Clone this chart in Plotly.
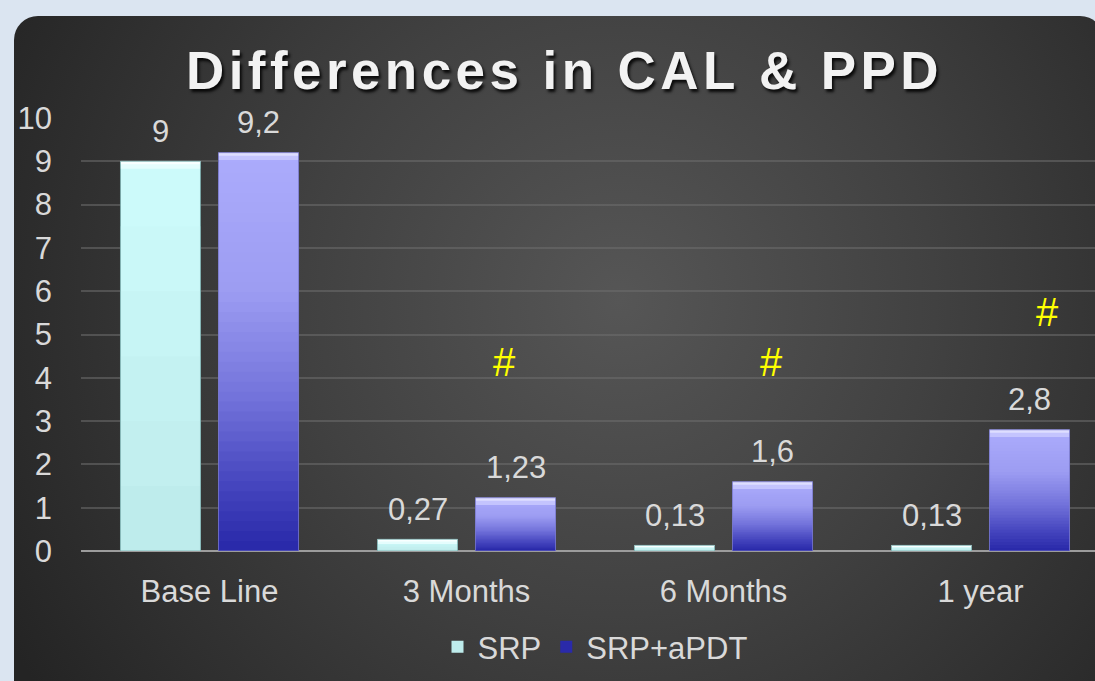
import base64
import plotly.graph_objects as go

# ---------------- data ----------------
categories = ["Base Line", "3 Months", "6 Months", "1 year"]
srp = [9, 0.27, 0.13, 0.13]
srp_apdt = [9.2, 1.23, 1.6, 2.8]
series_names = ["SRP", "SRP+aPDT"]
hash_y = [None, 4.36, 4.36, 5.52]   # significance marks "#"
y_ticks = list(range(0, 11))
title_text = "Differences in CAL & PPD"

# ---------------- layout geometry (pixels) ----------------
W, H = 1095, 681
PL, PR, PT, PB = 81, 1095, 118, 551          # plot area
CAT_STEP = 257.0


def pxx(px):
    return (px - PL) / (PR - PL)


def pxy(py):
    return (PB - py) / (PB - PT)


def hex2rgb(h):
    h = h.lstrip("#")
    return [int(h[i:i + 2], 16) for i in (0, 2, 4)]


def grad(stops, t):
    for (t0, c0), (t1, c1) in zip(stops[:-1], stops[1:]):
        if t0 <= t <= t1:
            f = (t - t0) / (t1 - t0) if t1 > t0 else 0
            a, b = hex2rgb(c0), hex2rgb(c1)
            return "rgb(%d,%d,%d)" % tuple(round(a[k] + (b[k] - a[k]) * f) for k in range(3))
    return stops[-1][1]


# gradient stops: t = 0 top of bar, 1 bottom
srp_stops = [(0, "#cdfbfb"), (0.5, "#c6f4f4"), (1, "#bdeaea")]
apdt_stops = [(0, "#acacfc"), (0.35, "#9c9cf2"), (0.62, "#7272da"), (0.85, "#4242bc"), (1, "#2828a8")]

fig = go.Figure()


def add_series(vals, name, key, stops, bevel_cols, edge_col, n):
    for i in range(n):
        frac = (n - i) / n
        t = 1 - (n - i - 0.5) / n
        col = grad(stops, t)
        fig.add_trace(go.Bar(
            x=categories, y=[v * frac for v in vals], offsetgroup=key,
            name=name, legendgroup=key, showlegend=(i == n - 1),
            marker=dict(color=col, line=dict(width=0)), hoverinfo="skip"))
    # top bevel highlight (two layers: soft band + brighter top edge)
    for k, (frac_h, col) in enumerate(zip((0.17, 0.07), bevel_cols)):
        hb = [min(frac_h, v * (0.4 if k == 0 else 0.18)) for v in vals]
        fig.add_trace(go.Bar(
            x=categories, y=hb, base=[v - h for v, h in zip(vals, hb)], offsetgroup=key,
            showlegend=False, legendgroup=key,
            marker=dict(color=col, line=dict(width=0)), hoverinfo="skip"))
    fig.add_trace(go.Bar(
        x=categories, y=vals, offsetgroup=key, showlegend=False, legendgroup=key,
        marker=dict(color="rgba(0,0,0,0)", line=dict(color=edge_col, width=1)),
        hovertemplate="%{x}: %{y}<extra>" + name + "</extra>"))


add_series(srp, series_names[0], "a", srp_stops, ("#e4fdfd", "#f8ffff"), "rgba(120,170,170,0.8)", 6)
add_series(srp_apdt, series_names[1], "b", apdt_stops, ("#c4c4fe", "#dedeff"), "rgba(120,120,200,0.8)", 40)

FONT = "Liberation Sans, Arial, sans-serif"
TXT = "#d9d9d9"
FS = 31

annotations = []
# value labels
for vals, dx in ((srp, -49), (srp_apdt, 49)):
    for c, v in zip(categories, vals):
        annotations.append(dict(
            x=c, y=v, xref="x", yref="y", xshift=dx, yshift=30, yanchor="middle",
            text=f"{v:g}".replace(".", ","), showarrow=False,
            font=dict(family=FONT, size=FS, color=TXT)))
# significance marks
hash_dx = [0, 38, 48, 67]
for c, yv, dx in zip(categories, hash_y, hash_dx):
    if yv is None:
        continue
    annotations.append(dict(
        x=c, y=yv, xref="x", yref="y", xshift=dx, yanchor="middle",
        text="#", showarrow=False, font=dict(family=FONT, size=40, color="#ffff00")))
# title
annotations.append(dict(
    x=pxx(562), y=pxy(70), xref="paper", yref="paper", xanchor="center", yanchor="middle",
    text="\u200a".join(title_text), showarrow=False,
    font=dict(family=FONT, size=53, color="#f2f2f2", weight="bold",
              shadow="2px 3px 3px rgba(0,0,0,0.85)")))

# dark rounded panel with radial gradient
svg = f'''<svg xmlns="http://www.w3.org/2000/svg" width="{W}" height="{H}" viewBox="0 0 {W} {H}" preserveAspectRatio="none">
<defs><radialGradient id="g" gradientUnits="userSpaceOnUse" cx="620" cy="300" r="700">
<stop offset="0" stop-color="#565656"/><stop offset="0.45" stop-color="#414141"/>
<stop offset="1" stop-color="#242424"/></radialGradient></defs>
<rect x="14" y="16" width="1090" height="690" rx="24" ry="24" fill="url(#g)"/>
</svg>'''
uri = "data:image/svg+xml;base64," + base64.b64encode(svg.encode()).decode()

fig.update_layout(
    width=W, height=H,
    margin=dict(l=PL, r=W - PR, t=PT, b=H - PB, pad=0),
    paper_bgcolor="#dbe5f1", plot_bgcolor="rgba(0,0,0,0)",
    barmode="group", bargap=0.237, bargroupgap=0.184,
    images=[dict(source=uri, xref="paper", yref="paper", x=pxx(0), y=pxy(0),
                 sizex=W / (PR - PL), sizey=H / (PB - PT), xanchor="left", yanchor="top",
                 sizing="stretch", layer="below")],
    annotations=annotations,
    legend=dict(orientation="h", x=pxx(595), y=pxy(647), xanchor="center", yanchor="middle",
                font=dict(family=FONT, size=FS, color=TXT), bgcolor="rgba(0,0,0,0)",
                traceorder="normal", itemclick=False),
    showlegend=True,
    font=dict(family=FONT, color=TXT),
)
fig.update_xaxes(
    range=[-0.5, -0.5 + (PR - PL) / CAT_STEP], showgrid=False, showline=False, zeroline=False,
    ticks="", tickfont=dict(family=FONT, size=FS, color=TXT), ticklabelstandoff=19,
    fixedrange=True)
fig.update_yaxes(
    range=[0, 10], tickvals=y_ticks, showgrid=True, gridcolor="rgba(110,110,110,0.55)", gridwidth=1.5,
    zeroline=True, zerolinecolor="#9c9c9c", zerolinewidth=2, showline=False, ticks="",
    tickfont=dict(family=FONT, size=FS, color=TXT), ticklabelstandoff=28, fixedrange=True)

fig.write_html("out.html", config={"displayModeBar": False},
               post_script="document.body.style.margin='0';document.body.style.overflow='hidden';")
